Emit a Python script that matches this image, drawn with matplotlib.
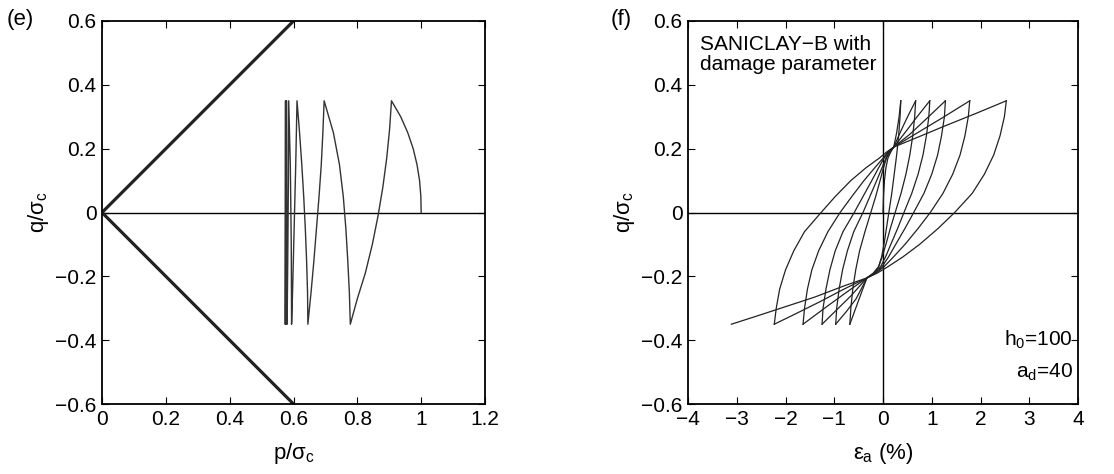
import matplotlib
matplotlib.use('Agg')
import matplotlib.pyplot as plt

plt.rcParams['font.family'] = ['Liberation Sans', 'DejaVu Sans']
plt.rcParams['mathtext.fontset'] = 'custom'
plt.rcParams['mathtext.rm'] = 'Liberation Sans'
plt.rcParams['mathtext.it'] = 'Liberation Sans'
plt.rcParams['axes.unicode_minus'] = True

# (e) stress path, p/sigma_c vs q/sigma_c
cs_p = [0.6, 0.0, 0.6]
cs_q = [0.6, 0.0, -0.6]
path_p = [1.0, 0.999, 0.995, 0.987, 0.975, 0.958, 0.936, 0.907,
          0.901, 0.892, 0.880, 0.865, 0.847, 0.825, 0.800, 0.778,
          0.775, 0.770, 0.764, 0.756, 0.744, 0.725, 0.696,
          0.692, 0.687, 0.680, 0.672, 0.664, 0.655, 0.645,
          0.644, 0.641, 0.637, 0.632, 0.626, 0.619, 0.611,
          0.607, 0.602, 0.597, 0.594,
          0.593, 0.590, 0.585,
          0.584, 0.582, 0.580,
          0.579, 0.578, 0.577, 0.576, 0.575, 0.575, 0.574]
path_q = [0.0, 0.05, 0.10, 0.15, 0.20, 0.25, 0.30, 0.35,
          0.26, 0.17, 0.08, -0.01, -0.10, -0.19, -0.27, -0.35,
          -0.25, -0.15, -0.05, 0.05, 0.15, 0.25, 0.35,
          0.25, 0.15, 0.05, -0.05, -0.15, -0.25, -0.35,
          -0.25, -0.15, -0.05, 0.05, 0.15, 0.25, 0.35,
          0.15, -0.05, -0.25, -0.35,
          -0.10, 0.15, 0.35,
          0.10, -0.15, -0.35,
          0.0, 0.35, -0.35, 0.35, -0.35, 0.35, -0.35]

# (f) cyclic response, branches in loading order
branch_eps = [
    [0.0, 0.01, 0.03, 0.06, 0.10, 0.16, 0.22, 0.28, 0.33, 0.365],
    [0.365, 0.35, 0.32, 0.28, 0.23, 0.18, 0.12, 0.07, 0.02, -0.03, -0.09, -0.20, -0.33, -0.50, -0.68],
    [-0.68, -0.66, -0.62, -0.56, -0.48, -0.37, -0.25, -0.15, -0.06, 0.01, 0.07, 0.14, 0.22, 0.38, 0.52, 0.67],
    [0.67, 0.65, 0.61, 0.55, 0.47, 0.37, 0.25, 0.15, 0.06, -0.02, -0.09, -0.19, -0.33, -0.55, -0.75, -0.97],
    [-0.97, -0.95, -0.90, -0.83, -0.73, -0.60, -0.41, -0.27, -0.13, -0.02, 0.06, 0.13, 0.22, 0.45, 0.70, 0.96],
    [0.96, 0.94, 0.89, 0.82, 0.72, 0.59, 0.43, 0.30, 0.16, 0.05, -0.05, -0.17, -0.33, -0.65, -0.95, -1.25],
    [-1.25, -1.23, -1.17, -1.09, -0.98, -0.82, -0.59, -0.41, -0.23, -0.09, 0.02, 0.12, 0.22, 0.55, 0.90, 1.28],
    [1.28, 1.26, 1.20, 1.12, 1.00, 0.84, 0.63, 0.45, 0.26, 0.11, -0.02, -0.16, -0.33, -0.75, -1.20, -1.64],
    [-1.64, -1.61, -1.55, -1.46, -1.32, -1.13, -0.88, -0.64, -0.39, -0.17, 0.0, 0.10, 0.22, 0.60, 1.20, 1.78],
    [1.78, 1.75, 1.68, 1.58, 1.43, 1.23, 0.97, 0.72, 0.45, 0.21, 0.02, -0.15, -0.33, -0.80, -1.30, -1.80, -2.23],
    [-2.23, -2.19, -2.12, -2.00, -1.83, -1.61, -1.27, -0.98, -0.66, -0.35, -0.08, 0.08, 0.22, 0.70, 1.25, 1.90, 2.53],
    [2.53, 2.49, 2.40, 2.27, 2.08, 1.83, 1.47, 1.13, 0.75, 0.40, 0.10, -0.12, -0.33, -0.80, -1.40, -2.00, -2.60, -3.11],
]
branch_q = [
    [0.0, 0.05, 0.10, 0.14, 0.17, 0.19, 0.205, 0.25, 0.30, 0.35],
    [0.35, 0.30, 0.24, 0.18, 0.12, 0.06, 0.0, -0.05, -0.10, -0.14, -0.17, -0.19, -0.205, -0.275, -0.35],
    [-0.35, -0.30, -0.24, -0.18, -0.12, -0.06, 0.0, 0.05, 0.10, 0.14, 0.17, 0.19, 0.205, 0.26, 0.305, 0.35],
    [0.35, 0.30, 0.24, 0.18, 0.12, 0.06, 0.0, -0.05, -0.10, -0.14, -0.17, -0.19, -0.205, -0.27, -0.31, -0.35],
    [-0.35, -0.30, -0.24, -0.18, -0.12, -0.06, 0.0, 0.05, 0.10, 0.14, 0.17, 0.19, 0.205, 0.25, 0.30, 0.35],
    [0.35, 0.30, 0.24, 0.18, 0.12, 0.06, 0.0, -0.05, -0.10, -0.14, -0.17, -0.19, -0.205, -0.26, -0.305, -0.35],
    [-0.35, -0.30, -0.24, -0.18, -0.12, -0.06, 0.0, 0.05, 0.10, 0.14, 0.17, 0.19, 0.205, 0.245, 0.295, 0.35],
    [0.35, 0.30, 0.24, 0.18, 0.12, 0.06, 0.0, -0.05, -0.10, -0.14, -0.17, -0.19, -0.205, -0.25, -0.30, -0.35],
    [-0.35, -0.30, -0.24, -0.18, -0.12, -0.06, 0.0, 0.05, 0.10, 0.14, 0.17, 0.19, 0.205, 0.24, 0.295, 0.35],
    [0.35, 0.30, 0.24, 0.18, 0.12, 0.06, 0.0, -0.05, -0.10, -0.14, -0.17, -0.19, -0.205, -0.24, -0.28, -0.318, -0.35],
    [-0.35, -0.30, -0.24, -0.18, -0.12, -0.06, 0.0, 0.05, 0.10, 0.14, 0.17, 0.19, 0.205, 0.235, 0.27, 0.31, 0.35],
    [0.35, 0.30, 0.24, 0.18, 0.12, 0.06, 0.0, -0.05, -0.10, -0.14, -0.17, -0.19, -0.205, -0.23, -0.265, -0.295, -0.325, -0.35],
]

e_xticks = [0, 0.2, 0.4, 0.6, 0.8, 1.0, 1.2]
e_xlabels = ['0', '0.2', '0.4', '0.6', '0.8', '1', '1.2']
f_xticks = [-4, -3, -2, -1, 0, 1, 2, 3, 4]
f_xlabels = ['\u22124', '\u22123', '\u22122', '\u22121', '0', '1', '2', '3', '4']
yticks = [-0.6, -0.4, -0.2, 0, 0.2, 0.4, 0.6]
ylabels = ['\u22120.6', '\u22120.4', '\u22120.2', '0', '0.2', '0.4', '0.6']

fig = plt.figure(figsize=(11.14, 4.74), dpi=100)
ax1 = fig.add_axes([102/1114, 70/474, 383/1114, 383/474])
ax2 = fig.add_axes([688/1114, 70/474, 390/1114, 383/474])

for ax in (ax1, ax2):
	ax.tick_params(direction='in', top=True, right=True, length=5, width=0.8, labelsize=15, pad=4)
	ax.set_yticks(yticks)
	ax.set_yticklabels(ylabels)
	ax.set_ylim(-0.6, 0.6)
	ax.axhline(0, color='black', lw=1.0)
	for s in ax.spines.values():
		s.set_linewidth(1.3)
	ax.set_ylabel(r'q/$\sigma_{\rm c}$', fontsize=16, labelpad=3)

# panel (e)
ax1.plot(cs_p, cs_q, color='#222222', lw=2.3, solid_capstyle='butt')
ax1.plot(path_p, path_q, color='#333333', lw=1.0)
ax1.set_xlim(0, 1.2)
ax1.set_xticks(e_xticks)
ax1.set_xticklabels(e_xlabels)
ax1.set_xlabel(r'p/$\sigma_{\rm c}$', fontsize=16, labelpad=9)
fig.text(20/1114, 1 - 20/474, '(e)', fontsize=16, ha='center', va='center')

# panel (f)
ax2.axvline(0, color='black', lw=1.0)
for be, bq in zip(branch_eps, branch_q):
	ax2.plot(be, bq, color='#222222', lw=0.9)
ax2.set_xlim(-4, 4)
ax2.set_xticks(f_xticks)
ax2.set_xticklabels(f_xlabels)
ax2.set_xlabel(r'$\varepsilon_{\rm a}$ (%)', fontsize=16, labelpad=9)
ax2.text(-3.75, 0.555, 'SANICLAY\u2212B with\ndamage parameter', fontsize=15,
		ha='left', va='top', linespacing=1.05)
ax2.text(3.9, -0.4, r'h$_{\rm 0}$=100', fontsize=15, ha='right', va='center')
ax2.text(3.9, -0.5, r'a$_{\rm d}$=40', fontsize=15, ha='right', va='center')
fig.text(621/1114, 1 - 20/474, '(f)', fontsize=16, ha='center', va='center')

fig.savefig('out.png', dpi=100)
